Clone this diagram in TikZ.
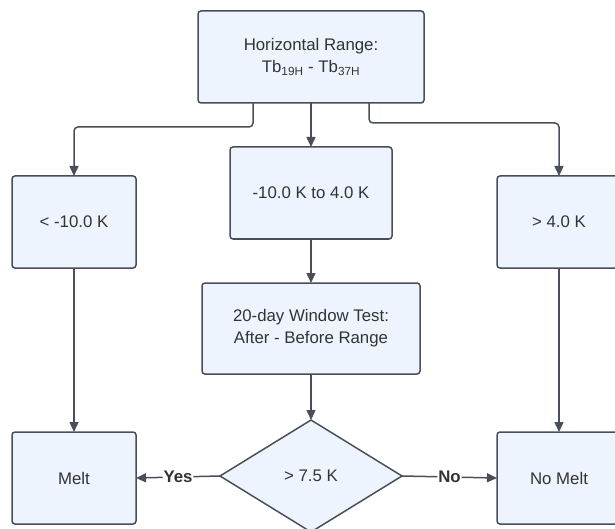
\documentclass[tikz,border=0pt]{standalone}
\usepackage{fontspec}
\setmainfont{Liberation Sans}
\usetikzlibrary{shapes.geometric,arrows.meta}
\definecolor{boxfill}{HTML}{EDF4FE}
\definecolor{boxline}{HTML}{4A4F57}
\definecolor{txt}{HTML}{333333}
\tikzset{
  box/.style={draw=boxline, fill=boxfill, line width=1.5pt, rounded corners=3pt,
    align=center, inner sep=0pt, outer sep=0pt, text=txt,
    font=\fontsize{16.8}{22}\selectfont},
  dec/.style={diamond, draw=boxline, fill=boxfill, line width=1.5pt, inner sep=0pt, outer sep=0pt,
    minimum width=182pt, minimum height=112pt, aspect=1.625, text=txt,
    font=\fontsize{16.8}{22}\selectfont},
  arr/.style={draw=boxline, line width=1.5pt, rounded corners=4pt,
    -{Triangle[length=10pt,width=9pt]}},
  lbl/.style={fill=white, inner sep=1pt, text=txt, font=\fontsize{16.8}{20}\selectfont\bfseries}
}
\begin{document}
\begin{tikzpicture}[x=1pt,y=-1pt]
\useasboundingbox (0,0) rectangle (615,529);
\node[box, minimum width=226pt, minimum height=92pt] (top) at (311,57) {Horizontal Range:\\Tb\textsubscript{19H} - Tb\textsubscript{37H}};
\node[box, minimum width=162pt, minimum height=92pt] (mid) at (311,193) {-10.0 K to 4.0 K};
\node[box, minimum width=124pt, minimum height=92pt] (lo) at (74,222) {< -10.0 K};
\node[box, minimum width=124pt, minimum height=92pt] (hi) at (559,222) {> 4.0 K};
\node[box, minimum width=218pt, minimum height=91pt] (win) at (311,328.5) {20-day Window Test:\\After - Before Range};
\node[dec] (d) at (311,476) {> 7.5 K};
\node[box, minimum width=124pt, minimum height=92pt] (melt) at (74,478) {Melt};
\node[box, minimum width=124pt, minimum height=92pt] (nomelt) at (559,478) {No Melt};

\draw[arr] ([xshift=-58pt]top.south) -- ++(0,24) -| (lo.north);
\draw[arr] ([xshift=58pt]top.south) -- ++(0,20) -| (hi.north);
\draw[arr] (top.south) -- (mid.north);
\draw[arr] (mid.south) -- (win.north);
\draw[arr] (win.south) -- (d.north);
\draw[arr] (lo.south) -- (melt.north);
\draw[arr] (hi.south) -- (nomelt.north);
\draw[arr] (d.west) -- node[lbl, pos=0.5] {Yes} (melt.east);
\draw[arr] (d.east) -- node[lbl, pos=0.5] {No} (nomelt.west);
\end{tikzpicture}
\end{document}
